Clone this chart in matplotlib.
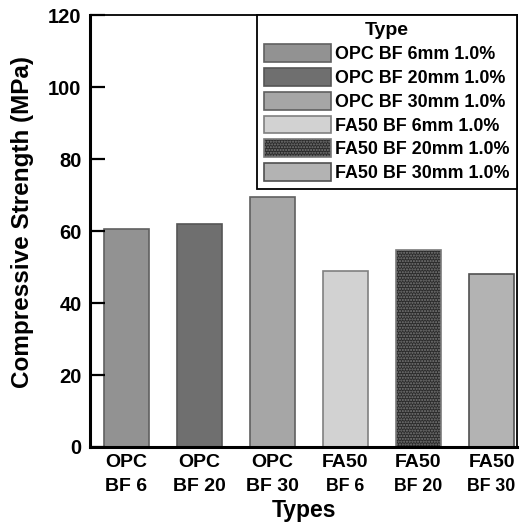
import numpy as np
import matplotlib
matplotlib.use("Agg")
import matplotlib.pyplot as plt
from matplotlib.transforms import blended_transform_factory

plt.rcParams['font.family'] = ['Liberation Sans', 'DejaVu Sans']
plt.rcParams['font.weight'] = 'bold'
plt.rcParams['hatch.linewidth'] = 1.0

# data
top_lines = ["OPC", "OPC", "OPC", "FA50", "FA50", "FA50"]
bottom_lines = ["BF 6", "BF 20", "BF 30", "BF 6", "BF 20", "BF 30"]
legend_labels = ["OPC BF 6mm 1.0%", "OPC BF 20mm 1.0%", "OPC BF 30mm 1.0%",
                 "FA50 BF 6mm 1.0%", "FA50 BF 20mm 1.0%", "FA50 BF 30mm 1.0%"]
strength = [60.5, 62.0, 69.5, 48.9, 54.8, 48.1]

colors = ["#929292", "#6f6f6f", "#a6a6a6", "#d2d2d2", "#2b2b2b", "#b3b3b3"]
hatches = [None, None, None, None, "......", None]
edges = ["#606060", "#555555", "#606060", "#808080", "#7a7a7a", "#505050"]

fig = plt.figure(figsize=(5.26, 5.24), dpi=100)
ax = fig.add_axes([0.171, 0.147, 0.812, 0.824])

x = np.arange(len(strength))
for i in range(len(strength)):
    ax.bar(x[i], strength[i], width=0.616, color=colors[i], edgecolor=edges[i],
           linewidth=1.2, hatch=hatches[i], label=legend_labels[i])

ax.set_xlim(-0.5, 5.35)
ax.set_ylim(0, 120)
ax.set_yticks(np.arange(0, 121, 20))
ax.tick_params(axis='y', direction='in', length=11, width=1.6, labelsize=14.5, pad=6)
ax.tick_params(axis='x', length=0)
ax.set_xticks([])
for lab in ax.get_yticklabels():
    lab.set_fontweight('bold')

for s in ['left', 'bottom']:
    ax.spines[s].set_linewidth(2.2)
for s in ['top', 'right']:
    ax.spines[s].set_linewidth(1.3)

trans = blended_transform_factory(ax.transData, ax.transAxes)
for i in range(len(strength)):
    small = top_lines[i] == "FA50"
    ax.text(x[i], -0.036, top_lines[i], transform=trans, ha='center', va='center',
            fontsize=14, fontweight='bold')
    ax.text(x[i], -0.091, bottom_lines[i], transform=trans, ha='center', va='center',
            fontsize=12.8 if small else 14, fontweight='bold')

ax.text(0.5, -0.148, "Types", transform=ax.transAxes, ha='center', va='center',
        fontsize=16.5, fontweight='bold')
ax.set_ylabel("Compressive Strength (MPa)", fontsize=17.5, fontweight='bold')
ax.yaxis.set_label_coords(-0.132, 0.52)

leg = ax.legend(loc='upper right', bbox_to_anchor=(1.0, 1.0), borderaxespad=0,
                title="Type", fancybox=False, edgecolor='black', framealpha=1,
                prop={'size': 12.9, 'weight': 'bold'}, title_fontproperties={'size': 14, 'weight': 'bold'},
                handlelength=3.75, handleheight=1.15, labelspacing=0.27, handletextpad=0.22,
                borderpad=0.4)
leg.get_frame().set_linewidth(1.3)

fig.savefig("out.png", dpi=100)
